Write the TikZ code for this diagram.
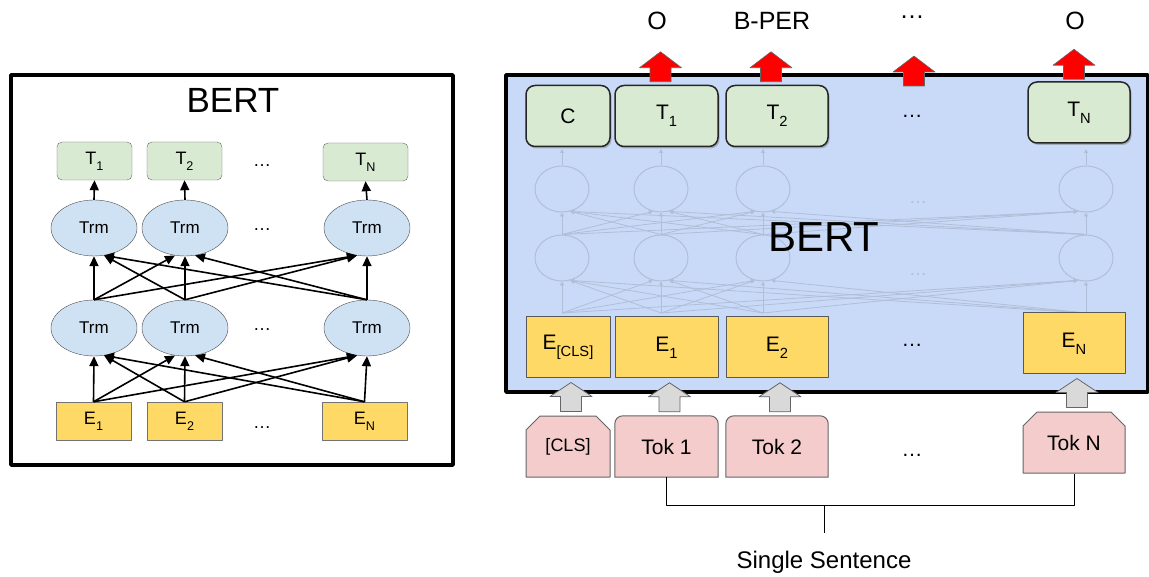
\documentclass[tikz,border=0pt]{standalone}
\usepackage{fontspec}
\setmainfont{Liberation Sans}
\usepackage{graphicx}
\usetikzlibrary{arrows.meta,shapes.geometric,shapes.misc,shadows,backgrounds}

\definecolor{tgreen}{HTML}{D9EAD3}
\definecolor{trmblue}{HTML}{CFE2F3}
\definecolor{eyellow}{HTML}{FFD966}
\definecolor{tokpink}{HTML}{F4CCCC}
\definecolor{bertblue}{HTML}{C9DAF8}
\definecolor{ghost}{RGB}{176,190,216}
\definecolor{arrgray}{HTML}{D9D9D9}

\newcommand{\sbs}[1]{\raisebox{-0.33em}{\scalebox{0.7}{#1}}}

\tikzset{
  fs/.style={font=\fontsize{#1}{#1}\selectfont},
  ltbox/.style={draw=black!60,fill=tgreen,rounded corners=5pt,minimum width=75pt,minimum height=38pt,inner sep=0pt,fs=18},
  trm/.style={ellipse,draw=black!70,fill=trmblue,minimum width=86pt,minimum height=56pt,inner sep=0pt,fs=17},
  lebox/.style={draw=black!55,fill=eyellow,minimum width=75pt,minimum height=38pt,inner sep=0pt,fs=18},
  link/.style={line width=1.6pt,-{Triangle[length=10pt,width=9pt]}},
  rtbox/.style={draw=black!85,line width=1.5pt,fill=tgreen,rounded corners=9pt,minimum width=102pt,minimum height=61pt,inner sep=0pt,fs=21,drop shadow={shadow xshift=1.5pt,shadow yshift=-2pt,fill=black!50}},
  rebox/.style={draw=black!65,line width=1pt,fill=eyellow,minimum width=102pt,minimum height=61pt,inner sep=0pt,fs=21},
  tokbox/.style={minimum width=102pt,minimum height=61pt,inner sep=0pt,fs=21},
  tokcut/.style={tokbox,chamfered rectangle,chamfered rectangle corners={north west,north east},chamfered rectangle xsep=7pt,chamfered rectangle ysep=7pt,draw=black!60,line width=1pt,fill=tokpink},
  ghostc/.style={ellipse,draw=ghost,line width=1pt,minimum width=54pt,minimum height=46pt,inner sep=0pt},
  glink/.style={draw=ghost,line width=0.8pt,-{Triangle[length=4pt,width=4pt]}},
  redup/.pic={\draw[fill=red,draw=black!60,line width=0.6pt] (-10.5,0) -- (-10.5,-14) -- (-21,-14) -- (0,-30) -- (21,-14) -- (10.5,-14) -- (10.5,0) -- cycle;},
  grayup/.pic={\draw[fill=arrgray,draw=black!60,line width=0.8pt] (-10.5,0) -- (-10.5,-15) -- (-21,-15) -- (0,-29) -- (21,-15) -- (10.5,-15) -- (10.5,0) -- cycle;}
}

\begin{document}
\begin{tikzpicture}[x=1pt,y=-1pt,line join=round]
\useasboundingbox (0,0) rectangle (1149,577);

% left: BERT stack
\draw[line width=3.5pt] (11,75) rectangle (453,465);
\node[fs=35] (ltitle) at (233,100) {BERT};

\node[ltbox] (lt1) at (94.5,161) {T\sbs{1}};
\node[ltbox] (lt2) at (184.5,161) {T\sbs{2}};
\node[ltbox,minimum width=85pt] (ltn) at (365.5,162) {T\sbs{N}};
\node[trm] (la1) at (94,228) {Trm};
\node[trm] (la2) at (185,228) {Trm};
\node[trm] (lan) at (367,228) {Trm};
\node[trm] (lb1) at (94,328) {Trm};
\node[trm] (lb2) at (185,328) {Trm};
\node[trm] (lbn) at (367,328) {Trm};
\node[lebox] (le1) at (93.5,421) {E\sbs{1}};
\node[lebox] (le2) at (184.5,421) {E\sbs{2}};
\node[lebox,minimum width=85pt] (len) at (364.5,421) {E\sbs{N}};
\node[fs=18] (ld1) at (262,166) {…};
\node[fs=18] (ld2) at (262,230) {…};
\node[fs=18] (ld3) at (262,330) {…};
\node[fs=18] (ld4) at (262,428) {…};

\draw[link] (le1.north) -- (lb1.south);
\draw[link] (le1.north) -- (lb2.250);
\draw[link] (le1.north) -- (lbn.250);
\draw[link] (le2.north) -- (lb1.290);
\draw[link] (le2.north) -- (lb2.south);
\draw[link] (le2.north) -- (lbn.250);
\draw[link] (len.north) -- (lb1.290);
\draw[link] (len.north) -- (lb2.290);
\draw[link] (len.north) -- (lbn.south);
\draw[link] (lb1.north) -- (la1.south);
\draw[link] (lb1.north) -- (la2.250);
\draw[link] (lb1.north) -- (lan.250);
\draw[link] (lb2.north) -- (la1.290);
\draw[link] (lb2.north) -- (la2.south);
\draw[link] (lb2.north) -- (lan.250);
\draw[link] (lbn.north) -- (la1.290);
\draw[link] (lbn.north) -- (la2.290);
\draw[link] (lbn.north) -- (lan.south);
\draw[link] (la1.north) -- (lt1.south);
\draw[link] (la2.north) -- (lt2.south);
\draw[link] (lan.north) -- (ltn.south);

% right: tagging
\draw[line width=3.5pt,fill=bertblue] (506,75) rectangle (1148,392);

\node[ghostc] (gu1) at (562,189) {};
\node[ghostc] (gu2) at (661,189) {};
\node[ghostc] (gu3) at (763,189) {};
\node[ghostc] (gu4) at (1086,189) {};
\node[ghostc] (gl1) at (562,258) {};
\node[ghostc] (gl2) at (661,258) {};
\node[ghostc] (gl3) at (763,258) {};
\node[ghostc] (gl4) at (1086,258) {};
\coordinate (gs1) at (562,313);
\coordinate (gs2) at (661,313);
\coordinate (gs3) at (763,313);
\coordinate (gs4) at (1086,313);
\coordinate (gt1) at (562,149);
\coordinate (gt2) at (661,149);
\coordinate (gt3) at (763,149);
\coordinate (gt4) at (1086,149);
\node[fs=18,text=ghost] (gd1) at (918,203) {…};
\node[fs=18,text=ghost] (gd2) at (918,275) {…};

\draw[glink] (gs1) -- (gl1.south);
\draw[glink] (gs1) -- (gl2.250);
\draw[glink] (gs1) -- (gl3.250);
\draw[glink] (gs1) -- (gl4.250);
\draw[glink] (gs2) -- (gl1.290);
\draw[glink] (gs2) -- (gl2.south);
\draw[glink] (gs2) -- (gl3.250);
\draw[glink] (gs2) -- (gl4.250);
\draw[glink] (gs3) -- (gl1.290);
\draw[glink] (gs3) -- (gl2.290);
\draw[glink] (gs3) -- (gl3.south);
\draw[glink] (gs3) -- (gl4.250);
\draw[glink] (gs4) -- (gl1.290);
\draw[glink] (gs4) -- (gl2.290);
\draw[glink] (gs4) -- (gl3.290);
\draw[glink] (gs4) -- (gl4.south);
\draw[glink] (gl1.north) -- (gu1.south);
\draw[glink] (gl1.north) -- (gu2.250);
\draw[glink] (gl1.north) -- (gu3.250);
\draw[glink] (gl1.north) -- (gu4.250);
\draw[glink] (gl2.north) -- (gu1.290);
\draw[glink] (gl2.north) -- (gu2.south);
\draw[glink] (gl2.north) -- (gu3.250);
\draw[glink] (gl2.north) -- (gu4.250);
\draw[glink] (gl3.north) -- (gu1.290);
\draw[glink] (gl3.north) -- (gu2.290);
\draw[glink] (gl3.north) -- (gu3.south);
\draw[glink] (gl3.north) -- (gu4.250);
\draw[glink] (gl4.north) -- (gu1.290);
\draw[glink] (gl4.north) -- (gu2.290);
\draw[glink] (gl4.north) -- (gu3.290);
\draw[glink] (gl4.north) -- (gu4.south);
\draw[glink] (gu1.north) -- (gt1);
\draw[glink] (gu2.north) -- (gt2);
\draw[glink] (gu3.north) -- (gt3);
\draw[glink] (gu4.north) -- (gt4);

\node[fs=42] (rtitle) at (824,237) {BERT};

\coordinate (rdots) at (914,86);
\node[rtbox,minimum width=84pt] (rc) at (568,116) {C};
\node[rtbox,minimum width=103pt] (rt1) at (666.5,116) {T\sbs{1}};
\node[rtbox] (rt2) at (777,116) {T\sbs{2}};
\node[rtbox] (rtn) at (1079,112.5) {T\sbs{N}};
\node[fs=21] (rd1) at (912,116) {…};
\pic[xshift=-6pt,yshift=3pt] at (rt1.north) {redup};
\pic[xshift=-6pt,yshift=3pt] at (rt2.north) {redup};
\pic at (rdots) {redup};
\pic[xshift=-5pt,yshift=2pt] at (rtn.north) {redup};

\node[fs=25] (lab1) at (657,21) {O};
\node[fs=25] (lab2) at (772,21) {B-PER};
\node[fs=25] (lab3) at (912,17) {…};
\node[fs=25] (lab4) at (1075,21) {O};

\node[rebox,minimum width=84pt] (re0) at (568,347.5) {E\sbs{[CLS]}};
\node[rebox,minimum width=103pt] (re1) at (666.5,347.5) {E\sbs{1}};
\node[rebox] (re2) at (777,347.5) {E\sbs{2}};
\node[rebox] (ren) at (1074,343.5) {E\sbs{N}};
\node[fs=21] (rd2) at (912,345) {…};

\node[tokcut,minimum width=84pt,fs=18] (tk0) at (568,446.5) {[CLS]};
\node[tokbox,minimum width=103pt] (tk1) at (666.5,446.5) {Tok 1};
\node[tokbox] (tk2) at (777,446.5) {Tok 2};
\node[tokcut] (tkn) at (1074,442.5) {Tok N};
\node[fs=21] (rd3) at (912,455) {…};
\begin{scope}[on background layer]
\draw[draw=black!60,line width=1pt,fill=tokpink] (tk1.south west) [rounded corners=8pt] -- (tk1.north west) -- (tk1.north east) [sharp corners] -- (tk1.south east) -- cycle;
\draw[draw=black!60,line width=1pt,fill=tokpink] (tk2.south west) [rounded corners=8pt] -- (tk2.north west) -- (tk2.north east) [sharp corners] -- (tk2.south east) -- cycle;
\end{scope}

\pic[xshift=3pt,yshift=4pt] at (tk0.north) {grayup};
\pic[xshift=3pt,yshift=4pt] at (tk1.north) {grayup};
\pic[xshift=3pt,yshift=4pt] at (tk2.north) {grayup};
\pic[xshift=3pt,yshift=4pt] at (tkn.north) {grayup};

\coordinate (mid) at (824,505);
\coordinate (stemend) at (824,533);
\node[fs=24] (sent) at (824,562) {Single Sentence};
\draw[line width=1pt] (tk1.south) -- ++(0,28) -| (tkn.south);
\draw[line width=1pt] (mid) -- (stemend);
\end{tikzpicture}
\end{document}
